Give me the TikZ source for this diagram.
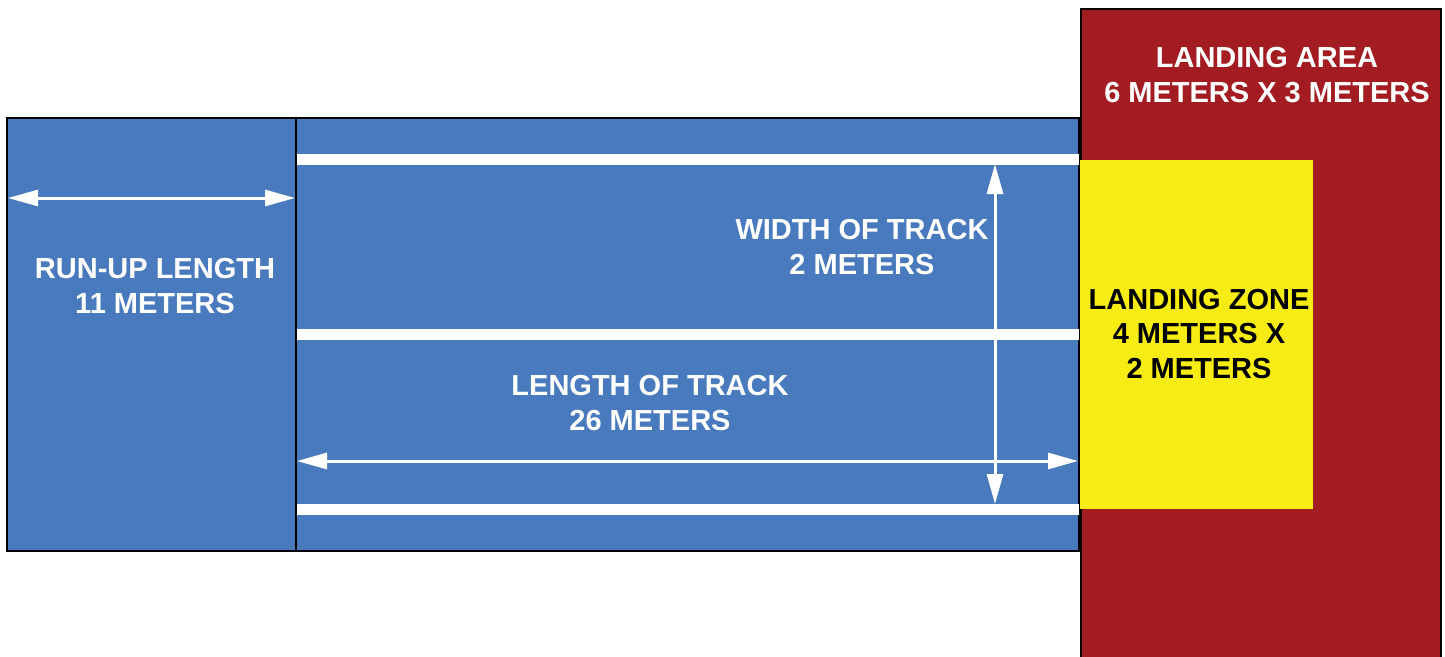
\documentclass[tikz,border=0pt]{standalone}
\usepackage{fontspec}
\setmainfont{Liberation Sans}
\usetikzlibrary{arrows.meta}
\definecolor{trackblue}{RGB}{72,122,189}
\definecolor{areared}{RGB}{163,28,34}
\definecolor{zoneyellow}{RGB}{247,236,19}
\tikzset{
  box/.style={draw=black,line width=2.5pt},
  lane/.style={draw=white,line width=11pt},
  dim/.style={draw=white,line width=3pt,{Triangle[length=30pt,width=16pt]}-{Triangle[length=30pt,width=16pt]}},
  lbl/.style={align=center,font=\bfseries\fontsize{29}{34.5}\selectfont,inner sep=0pt}
}
\begin{document}
\begin{tikzpicture}[x=1pt,y=-1pt]
\useasboundingbox (0,0) rectangle (1445,656);
\begin{scope}
\clip (0,0) rectangle (1445,656);
% landing area
\draw[box,fill=areared] (1081,9) rectangle (1441,700);
% run-up and track
\draw[box,fill=trackblue] (7,118) rectangle (296,551);
\draw[box,fill=trackblue] (296,118) rectangle (1079,551);
% landing zone
\fill[zoneyellow] (1080,160) rectangle (1313,509);
\end{scope}
% lane lines
\coordinate (l1a) at (297,159); \coordinate (l1b) at (1079,159);
\coordinate (l2a) at (297,334); \coordinate (l2b) at (1079,334);
\coordinate (l3a) at (297,509); \coordinate (l3b) at (1079,509);
\draw[lane] (l1a) -- (l1b);
\draw[lane] (l2a) -- (l2b);
\draw[lane] (l3a) -- (l3b);
% dimension arrows
\coordinate (ra) at (8,198); \coordinate (rb) at (295,198);
\coordinate (wa) at (995,164); \coordinate (wb) at (995,504);
\coordinate (ta) at (297,461); \coordinate (tb) at (1078,461);
\draw[dim] (ra) -- (rb);
\draw[dim] (wa) -- (wb);
\draw[dim] (ta) -- (tb);
% labels
\node[lbl,text=white] (runup) at (155,286) {RUN-UP LENGTH\\11 METERS};
\node[lbl,text=white] (width) at (862,247) {WIDTH OF TRACK\\2 METERS};
\node[lbl,text=white] (length) at (650,403) {LENGTH OF TRACK\\26 METERS};
\node[lbl,text=black] (zone) at (1199,334) {LANDING ZONE\\4 METERS X\\2 METERS};
\node[lbl,text=white] (area) at (1267,75) {LANDING AREA\\6 METERS X 3 METERS};
\end{tikzpicture}
\end{document}
